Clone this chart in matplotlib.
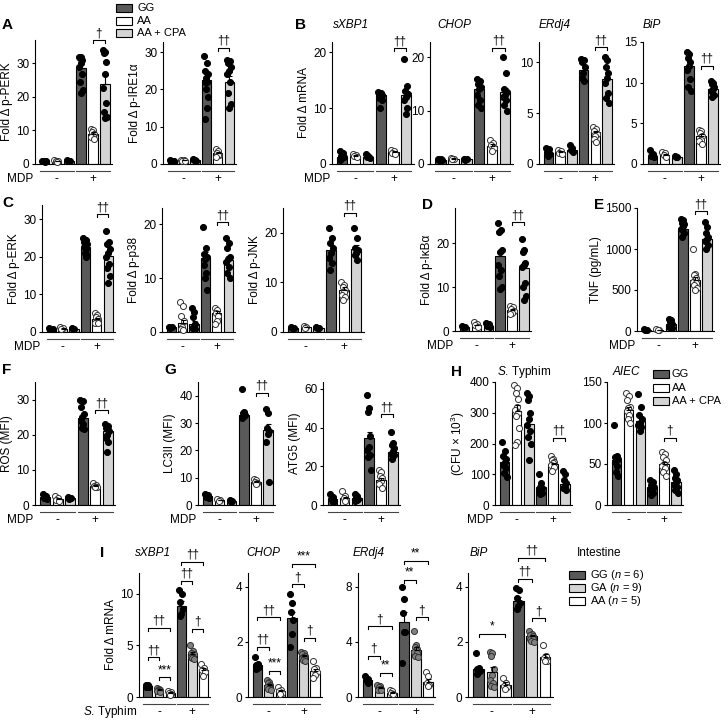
import numpy as np
import matplotlib.pyplot as plt
from matplotlib.patches import Rectangle
from matplotlib.transforms import blended_transform_factory

plt.rcParams['font.family'] = ['Liberation Sans', 'DejaVu Sans']
plt.rcParams['font.size'] = 8.5
plt.rcParams['mathtext.fontset'] = 'custom'
plt.rcParams['mathtext.rm'] = 'Liberation Sans'
plt.rcParams['mathtext.it'] = 'Liberation Sans:italic'

W, H = 728, 726
DARK = '#595959'
LIGHT = '#d4d4d4'

# bar order A-H: GG -, AA -, AA+CPA -, GG +, AA +, AA+CPA +
perk_mean = [0.8, 0.9, 0.9, 28.5, 9.0, 24.0]
perk_err = [0.05, 0.05, 0.05, 1.2, 0.4, 2.5]
perk_pts = [[1.0, 0.9, 0.8, 0.8, 0.7], [1.1, 1.0, 0.9, 0.8, 0.7], [1.1, 1.0, 0.9, 0.8, 0.8],
            [32, 32, 31.5, 31, 30, 28.8, 27, 24.6, 22, 21.3], [10.5, 10, 9.5, 9, 8.5, 8, 7.5],
            [34, 33.5, 33, 30.3, 27, 22.8, 18.3, 15.6, 14, 13.8]]

ire_mean = [0.9, 1.0, 1.1, 22.5, 3.0, 22.0]
ire_err = [0.05, 0.05, 0.05, 1.5, 0.3, 1.5]
ire_pts = [[1.0, 0.9, 0.8, 0.8], [1.2, 1.0, 0.9, 0.8], [1.3, 1.1, 1.0, 0.9],
           [29, 27, 25, 24, 23, 22, 22, 20, 18, 15, 12], [4, 3.5, 3, 2.5, 2.5, 2],
           [28, 27.5, 27, 26, 25, 24, 22, 19, 16, 15]]

bxbp_mean = [1.3, 1.5, 1.3, 12.3, 2.2, 12.3]
bxbp_err = [0.15, 0.1, 0.1, 0.3, 0.15, 0.8]
bxbp_pts = [[2.3, 2.0, 1.5, 1.2, 1.0, 0.8], [1.8, 1.6, 1.4, 1.2], [1.7, 1.5, 1.3, 1.1],
            [12.8, 12.6, 12.5, 12.3, 12.0, 11.8, 11.5, 10.0], [2.5, 2.3, 2.0, 1.8],
            [18.8, 14, 13, 12.5, 12, 11.5, 10, 9]]

bchop_mean = [0.8, 1.0, 0.9, 14.0, 3.4, 13.5]
bchop_err = [0.05, 0.1, 0.05, 0.6, 0.3, 0.8]
bchop_pts = [[1.0, 0.9, 0.8, 0.7], [1.2, 1.0, 0.9], [1.0, 0.9, 0.8],
             [16, 15.5, 15, 14.5, 14, 13, 12, 11, 10.5], [4.5, 4, 3.5, 3, 2.5],
             [20, 17, 14, 13.5, 13, 12.5, 12, 11, 10]]

berd_mean = [1.1, 1.2, 1.4, 9.2, 3.1, 8.4]
berd_err = [0.15, 0.05, 0.1, 0.3, 0.15, 0.5]
berd_pts = [[1.6, 1.5, 1.2, 1.0, 0.8], [1.4, 1.3, 1.1, 1.0], [1.9, 1.6, 1.4, 1.2],
            [10.3, 10.2, 10, 9.5, 9, 8.5, 8.2], [3.6, 3.4, 3.2, 3.0, 2.8, 2.5, 2.2],
            [10.5, 10.2, 9.5, 9, 8.5, 8, 7, 6.5, 6]]

bbip_mean = [1.0, 1.1, 0.9, 12.0, 3.5, 9.2]
bbip_err = [0.15, 0.1, 0.05, 0.5, 0.2, 0.25]
bbip_pts = [[1.7, 1.2, 1.0, 0.8], [1.5, 1.3, 1.1, 0.9], [1.0, 0.9, 0.8],
            [13.8, 13.5, 13, 12.5, 12, 11.5, 10.5, 9.5, 9], [4.2, 4, 3.8, 3.5, 3, 2.8, 2.5],
            [10.2, 10, 9.8, 9.5, 9.2, 9, 8.5, 8.2]]

erk_mean = [0.8, 0.9, 0.8, 22.5, 3.5, 20.2]
erk_err = [0.05, 0.1, 0.05, 0.5, 0.3, 1.2]
erk_pts = [[1.0, 0.9, 0.8, 0.7], [1.2, 1.0, 0.8], [1.0, 0.9, 0.8],
           [25, 24.5, 24, 23.5, 23, 22.5, 22, 21, 20.5, 20], [5, 4.5, 4, 3.5, 3, 2.5, 2.5],
           [27, 24, 23.5, 22, 21, 20, 18, 17, 15, 13]]

p38_mean = [0.9, 1.6, 1.5, 13.8, 3.5, 13.3]
p38_err = [0.05, 0.6, 0.5, 1.0, 0.4, 0.8]
p38_pts = [[1.0, 0.9, 0.8], [5.5, 4.8, 3.0, 2.0, 1.0, 0.5, 0.3], [4.5, 3.8, 2.8, 1.5, 1.0, 0.8, 0.5],
           [19.5, 15.5, 14.5, 14, 13.5, 12.5, 11, 10, 7.8], [4.5, 4, 3.5, 3, 2, 1.5],
           [17.5, 16.5, 15.5, 14, 13.5, 13, 12, 11, 10]]

jnk_mean = [0.9, 1.0, 0.9, 16.5, 8.5, 16.8]
jnk_err = [0.05, 0.1, 0.05, 1.0, 0.5, 0.7]
jnk_pts = [[1.0, 0.9, 0.8], [1.2, 1.0, 0.9], [1.0, 0.9, 0.8],
           [21, 19, 18, 17, 16, 15, 14, 12.5], [10, 9.5, 9, 8.5, 8, 7.5, 7, 6.5],
           [21, 19, 17, 16.5, 16, 15.5, 14.5]]

ikb_mean = [0.9, 1.3, 1.2, 17.0, 4.8, 14.4]
ikb_err = [0.05, 0.15, 0.1, 1.4, 0.3, 1.4]
ikb_pts = [[1.2, 1.0, 0.8], [2.0, 1.7, 1.3, 1.0], [1.8, 1.5, 1.2, 1.0],
           [24.5, 23, 22.5, 18.5, 18, 15, 14, 12.5, 10, 9.5], [5.8, 5.5, 5, 4.5, 4.2, 3.8],
           [21, 18.5, 18, 15.5, 15, 14.5, 11, 10, 8, 7]]

tnf_mean = [15, 15, 80, 1250, 620, 1120]
tnf_err = [3, 2, 12, 25, 40, 35]
tnf_pts = [[20, 15, 10], [20, 15, 10], [150, 130, 110, 90, 70, 50, 40],
           [1370, 1350, 1320, 1300, 1280, 1250, 1200, 1150],
           [1000, 700, 680, 650, 620, 600, 580, 560, 520, 500],
           [1330, 1270, 1200, 1150, 1120, 1100, 1050, 1000]]

ros_mean = [2.2, 1.8, 2.0, 24.8, 5.5, 21.0]
ros_err = [0.15, 0.15, 0.1, 1.0, 0.2, 0.8]
ros_pts = [[3.0, 2.5, 2.0, 1.8], [2.5, 2.0, 1.5, 1.2], [2.3, 2.0, 1.8],
           [30, 29.5, 28, 26, 25, 24, 23, 22, 21.5], [6.2, 5.8, 5.5, 5.2, 5.0],
           [23, 22.5, 22, 21, 20, 19, 18, 15]]

lc3_mean = [3.2, 1.8, 1.5, 33.0, 8.5, 27.5]
lc3_err = [0.3, 0.1, 0.1, 0.5, 0.3, 2.3]
lc3_pts = [[4.0, 3.5, 3.0, 2.5], [2.2, 2.0, 1.5], [1.8, 1.5, 1.2],
           [42.5, 34, 33.5, 33, 32.5, 32], [9.5, 9, 8.5, 8, 7.8],
           [35, 33.5, 28, 27, 26, 23, 8.5]]

atg_mean = [3.0, 3.5, 3.5, 34.5, 13.0, 27.6]
atg_err = [0.5, 0.6, 0.4, 3.5, 1.0, 1.4]
atg_pts = [[5.5, 4, 3, 2, 1.5], [7, 4.5, 3.5, 2.5, 2], [5.5, 4.5, 4, 3, 2.5, 2],
           [57, 50, 48, 35.5, 30, 28.6, 26, 25, 18], [18, 17, 15, 14, 12.5, 11, 9],
           [38, 32, 31, 29.5, 28, 26.5, 25.8, 24]]

# panel H is infected cells, same bar order
st_mean = [140, 305, 262, 57, 133, 68]
st_err = [10, 20, 20, 6, 5, 7]
st_pts = [[205, 175, 160, 150, 140, 130, 120, 105, 90],
          [390, 380, 365, 345, 320, 310, 300, 290, 250, 205, 195],
          [365, 355, 340, 300, 280, 260, 240, 220, 200, 145],
          [100, 70, 60, 55, 50, 45, 40, 35], [160, 150, 145, 140, 135, 130, 125, 110],
          [110, 100, 80, 70, 60, 55, 50]]

aiec_mean = [55, 116, 102, 22, 50, 28]
aiec_err = [5, 4, 4, 2, 3, 2.5]
aiec_pts = [[97, 60, 58, 56, 55, 52, 48, 40, 35], [137, 133, 128, 120, 118, 115, 110, 105, 100],
            [135, 120, 110, 105, 100, 98, 95, 90], [30, 28, 25, 22, 20, 18, 15, 12],
            [65, 62, 58, 55, 50, 48, 45, 40, 35], [43, 38, 33, 30, 28, 25, 22, 18, 15]]

# panel I bar order: GG -, GA -, AA -, GG +, GA +, AA +
ixbp_mean = [1.1, 0.7, 0.4, 8.8, 4.2, 2.6]
ixbp_err = [0.04, 0.05, 0.06, 0.45, 0.15, 0.2]
ixbp_pts = [[1.2, 1.15, 1.1, 1.0, 1.0, 1.0], [0.9, 0.8, 0.7, 0.7, 0.6, 0.6, 0.5],
            [0.6, 0.5, 0.4, 0.3, 0.2], [10.4, 10, 9.2, 8.5, 8, 7.8],
            [5, 4.5, 4.3, 4.2, 4, 3.9, 3.8, 3.8, 3.7], [3.2, 2.8, 2.6, 2.4, 2.0]]
ixbp_sig = [(0, 1, 3.85, '††'), (1, 2, 1.9, '***'), (0, 2, 6.7, '††'),
            (3, 4, 11.25, '††'), (3, 5, 13.1, '††'), (4, 5, 6.6, '†')]

ichop_mean = [1.15, 0.45, 0.2, 2.85, 1.5, 0.95]
ichop_err = [0.04, 0.03, 0.04, 0.25, 0.04, 0.08]
ichop_pts = [[1.45, 1.2, 1.15, 1.1, 1.05, 1.0], [0.6, 0.55, 0.5, 0.45, 0.4, 0.35, 0.3, 0.3, 0.25],
             [0.35, 0.25, 0.2, 0.15, 0.1], [3.75, 3.4, 3.1, 2.8, 2.3, 1.8],
             [1.65, 1.6, 1.55, 1.5, 1.45, 1.4, 1.4, 1.35, 1.3], [1.3, 1.05, 1.0, 0.9, 0.8, 0.7]]
ichop_sig = [(0, 1, 1.82, '††'), (1, 2, 0.95, '***'), (0, 2, 2.9, '††'),
             (3, 4, 4.1, '†'), (3, 5, 4.84, '***'), (4, 5, 2.15, '†')]

ierd_mean = [1.25, 0.65, 0.3, 5.45, 3.4, 1.1]
ierd_err = [0.08, 0.05, 0.05, 0.75, 0.2, 0.2]
ierd_pts = [[1.5, 1.3, 1.2, 1.1, 1.0], [0.9, 0.8, 0.7, 0.6, 0.6, 0.5, 0.5],
            [0.5, 0.4, 0.3, 0.2], [8.0, 7.1, 6.1, 4.7, 4.7, 2.5],
            [4.8, 3.8, 3.6, 3.5, 3.4, 3.3, 3.2, 3.0, 2.9], [1.8, 1.5, 1.0, 0.9, 0.8]]
ierd_sig = [(0, 1, 3.0, '†'), (1, 2, 1.75, '**'), (0, 2, 5.15, '†'),
            (3, 4, 8.5, '**'), (3, 5, 9.9, '**'), (4, 5, 5.8, '†')]

ibip_mean = [1.0, 0.9, 0.45, 3.5, 2.2, 1.45]
ibip_err = [0.1, 0.18, 0.08, 0.12, 0.05, 0.1]
ibip_pts = [[1.6, 1.05, 1.0, 0.95, 0.9, 0.85], [1.65, 1.6, 1.5, 1.0, 0.8, 0.6, 0.5, 0.4, 0.35],
            [0.7, 0.5, 0.4, 0.35, 0.3], [3.95, 3.9, 3.6, 3.4, 3.3, 3.2],
            [2.4, 2.3, 2.25, 2.2, 2.15, 2.1, 2.1, 2.05, 2.0], [1.9, 1.5, 1.4, 1.3, 1.3]]
ibip_sig = [(0, 2, 2.3, '*'), (3, 4, 4.3, '††'), (3, 5, 5.05, '††'), (4, 5, 2.85, '†')]

cpa_labels = ['GG', 'AA', 'AA + CPA']
int_labels = ['GG ($n$ = 6)', 'GA ($n$ = 9)', 'AA ($n$ = 5)']

fig = plt.figure(figsize=(W / 100, H / 100), dpi=100)

STYLE_CPA = [(DARK, 'black', 'black'), ('white', 'white', '#333333'), (LIGHT, 'black', 'black')]
STYLE_INT = [(DARK, 'black', 'black'), (LIGHT, '#808080', '#333333'), ('white', 'white', '#333333')]


def jitter(n):
    return [((i * 0.618034) % 1 - 0.5) * 0.36 for i in range(n)]


def panel(box, ymax, yticks, means, errs, pts, style=STYLE_CPA, sig=None,
          ylabel=None, group=None):
    x0, x1, ytop, y0 = box
    hpx = y0 - ytop
    ax = fig.add_axes([x0 / W, 1 - y0 / H, (x1 - x0) / W, hpx / H])
    ppu = hpx / ymax
    xs = np.arange(6)
    for i in range(6):
        fc, pf, pe = style[i % 3]
        ax.bar(xs[i], means[i], width=0.8, color=fc, edgecolor='black', linewidth=0.8, zorder=2)
        ax.errorbar(xs[i], means[i], yerr=[[0], [errs[i]]], fmt='none', ecolor='black',
                    elinewidth=0.8, capsize=1.8, capthick=0.8, zorder=4)
        p = pts[i]
        ax.scatter(xs[i] + np.array(jitter(len(p))), p, s=19, facecolor=pf, edgecolor=pe,
                   linewidth=0.7, zorder=3, clip_on=False)
    ax.set_xlim(-0.8, 5.6)
    ax.set_ylim(0, ymax)
    ax.set_yticks(yticks)
    ax.set_xticks([])
    for s in ['top', 'right']:
        ax.spines[s].set_visible(False)
    for s in ['left', 'bottom']:
        ax.spines[s].set_linewidth(0.8)
    ax.tick_params(axis='y', length=2.5, width=0.8, pad=1.5, labelsize=8.5)
    if ylabel:
        ax.set_ylabel(ylabel, labelpad=2)
    tr = blended_transform_factory(ax.transData, ax.transAxes)
    for a, b in [(-0.4, 2.4), (2.6, 5.4)]:
        ax.plot([a, b], [-7 / hpx] * 2, color='#444444', lw=0.8, transform=tr, clip_on=False)
    ax.text(1, -15 / hpx, '-', transform=tr, ha='center', va='center')
    ax.text(4, -15 / hpx, '+', transform=tr, ha='center', va='center')
    if group:
        fig.text((x0 - 2) / W, 1 - (y0 + 15) / H, group, ha='right', va='center')
    if sig is None:
        sig = []
    tick = 3 / ppu
    for a, b, yv, lab in sig:
        ax.plot([a, a, b, b], [yv - tick, yv, yv, yv - tick], color='black', lw=0.8,
                clip_on=False, zorder=5)
        ax.text((a + b) / 2, yv + 1 / ppu, lab, ha='center', va='bottom', fontsize=8.5,
                clip_on=False)
    return ax


def ftext(x, y, s, **kw):
    fig.text(x / W, 1 - y / H, s, va='center', **kw)


def letter(x, y, s):
    ftext(x, y, s, fontsize=11, fontweight='bold', ha='left')


def legend(xs, xt, ys, labels, style):
    for yy, lab, st in zip(ys, labels, style):
        fig.add_artist(Rectangle((xs / W, 1 - (yy + 4) / H), 16 / W, 8 / H, facecolor=st[0],
                                 edgecolor='black', linewidth=0.8, transform=fig.transFigure))
        ftext(xt, yy, lab, ha='left', fontsize=8)


# row 1
panel((35, 112, 40, 164), 37, [0, 10, 20, 30], perk_mean, perk_err, perk_pts,
      sig=[(4, 5, 37, '†')], ylabel='Fold Δ p-PERK', group='MDP')
panel((163, 236, 42, 164), 32.7, [0, 10, 20, 30], ire_mean, ire_err, ire_pts,
      sig=[(4, 5, 31.1, '††')], ylabel='Fold Δ p-IRE1α')
panel((332, 414, 42, 164), 21.8, [0, 10, 20], bxbp_mean, bxbp_err, bxbp_pts,
      sig=[(4, 5, 20.7, '††')], ylabel='Fold Δ mRNA', group='MDP')
panel((430, 513, 42, 164), 22.9, [0, 10, 20], bchop_mean, bchop_err, bchop_pts,
      sig=[(4, 5, 21.8, '††')])
panel((539, 614, 42, 164), 12, [0, 5, 10], berd_mean, berd_err, berd_pts,
      sig=[(4, 5, 11.5, '††')])
panel((643, 720, 42, 164), 15, [0, 5, 10, 15], bbip_mean, bbip_err, bbip_pts,
      sig=[(4, 5, 12.05, '††')])
letter(2, 25, 'A')
letter(295, 25, 'B')
legend(116, 137, [8, 21, 33], cpa_labels, STYLE_CPA)
for x, t in [(333, 'sXBP1'), (437, 'CHOP'), (539, 'ERdj4'), (643, 'BiP')]:
    ftext(x, 25, t, style='italic', ha='left')

# row 2
panel((42, 115, 205, 332), 33.8, [0, 10, 20, 30], erk_mean, erk_err, erk_pts,
      sig=[(4, 5, 31.4, '††')], ylabel='Fold Δ p-ERK', group='MDP')
panel((162, 235, 208, 332), 23.0, [0, 10, 20], p38_mean, p38_err, p38_pts,
      sig=[(4, 5, 20.4, '††')], ylabel='Fold Δ p-p38')
panel((283, 364, 208, 332), 25, [0, 10, 20], jnk_mean, jnk_err, jnk_pts,
      sig=[(4, 5, 24, '††')], ylabel='Fold Δ p-JNK')
panel((455, 531, 208, 331), 28, [0, 10, 20], ikb_mean, ikb_err, ikb_pts,
      sig=[(4, 5, 24.8, '††')], ylabel='Fold Δ p-IκBα', group='MDP')
panel((637, 714, 208, 331), 1500, [0, 500, 1000, 1500], tnf_mean, tnf_err, tnf_pts,
      sig=[(4, 5, 1463, '††')], ylabel='TNF (pg/mL)', group='MDP')
letter(2, 203, 'C')
letter(422, 205, 'D')
letter(594, 205, 'E')

# row 3
panel((35, 115, 382, 505), 35, [0, 10, 20, 30], ros_mean, ros_err, ros_pts,
      sig=[(4, 5, 27, '††')], ylabel='ROS (MFI)', group='MDP')
panel((198, 275, 382, 505), 45, [0, 10, 20, 30, 40], lc3_mean, lc3_err, lc3_pts,
      sig=[(4, 5, 41, '††')], ylabel='LC3II (MFI)', group='MDP')
panel((323, 400, 382, 505), 63.6, [0, 20, 40, 60], atg_mean, atg_err, atg_pts,
      sig=[(4, 5, 47, '††')], ylabel='ATG5 (MFI)')
panel((495, 572, 382, 505), 400, [0, 100, 200, 300, 400], st_mean, st_err, st_pts,
      sig=[(4, 5, 218, '††')], ylabel='(CFU × 10$^3$)', group='MDP')
panel((607, 683, 382, 505), 150, [0, 50, 100, 150], aiec_mean, aiec_err, aiec_pts,
      sig=[(4, 5, 82, '†')])
letter(2, 370, 'F')
letter(164, 370, 'G')
letter(451, 372, 'H')
ftext(497, 372, '$S$. Typhim', ha='left')
ftext(613, 372, 'AIEC', style='italic', ha='left')
legend(653, 672, [374, 388, 401], cpa_labels, STYLE_CPA)

# row 4
panel((139, 210, 573, 697), 12, [0, 5, 10], ixbp_mean, ixbp_err, ixbp_pts, style=STYLE_INT,
      sig=ixbp_sig, ylabel='Fold Δ mRNA', group='$S$. Typhim')
panel((248, 322, 573, 697), 4.5, [0, 2, 4], ichop_mean, ichop_err, ichop_pts, style=STYLE_INT,
      sig=ichop_sig)
panel((358, 435, 573, 697), 9, [0, 4, 8], ierd_mean, ierd_err, ierd_pts, style=STYLE_INT,
      sig=ierd_sig)
panel((468, 553, 573, 697), 4.5, [0, 2, 4], ibip_mean, ibip_err, ibip_pts, style=STYLE_INT,
      sig=ibip_sig)
letter(100, 553, 'I')
for x, t in [(135, 'sXBP1'), (246, 'CHOP'), (353, 'ERdj4'), (470, 'BiP')]:
    ftext(x, 553, t, style='italic', ha='left')
ftext(577, 553, 'Intestine', ha='left')
legend(569, 590, [575, 588, 601], int_labels, STYLE_INT)

fig.savefig('out.png', dpi=100)
